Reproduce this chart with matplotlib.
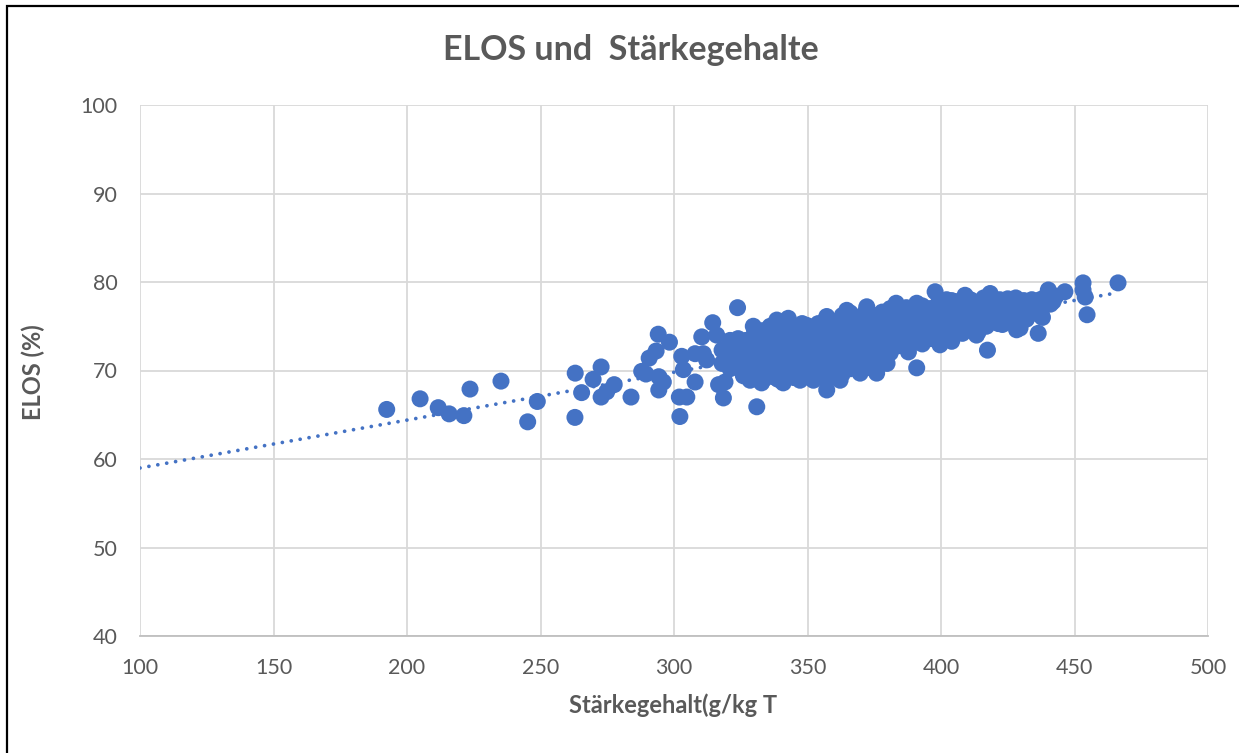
import numpy as np
import matplotlib
matplotlib.use('Agg')
import matplotlib.pyplot as plt
from matplotlib.patches import Rectangle

# starch content (g/kg T) vs ELOS (%)
starch_outliers = [192.4, 204.9, 211.7, 215.8, 221.3, 223.6, 235.2, 245.2, 248.8, 263.0,
                   262.9, 265.4, 269.7, 272.7, 272.7, 274.8, 277.6, 283.9, 287.9, 289.5,
                   290.7, 293.3, 294.1, 294.3, 294.3, 296.0, 298.3, 302.0, 304.8, 302.2,
                   302.9, 303.5, 307.9, 307.9, 310.4, 314.5, 316.0, 312.2, 316.7, 318.5,
                   319.1, 323.8, 329.7, 331.0, 311.0, 329.1, 327.8, 321.0, 325.6]
elos_outliers = [65.6, 66.8, 65.8, 65.1, 64.9, 67.9, 68.8, 64.2, 66.5, 69.7,
                 64.7, 67.5, 69.0, 70.4, 67.0, 67.6, 68.4, 67.0, 69.9, 69.6,
                 71.4, 72.2, 74.1, 69.3, 67.8, 68.7, 73.2, 67.0, 67.0, 64.8,
                 71.6, 70.1, 68.7, 71.9, 73.8, 75.4, 74.0, 71.2, 68.4, 66.9,
                 68.7, 77.1, 75.0, 65.9, 71.9, 69.1, 73.3, 73.4, 71.4]

# outline of the dense cloud
starch_edge = [338.5, 342.8, 349.7, 357.2, 364.7, 372.2, 383.2, 390.9, 397.8, 402.1,
               409.0, 418.4, 424.6, 428.3, 440.2, 446.4, 437.1,
               328.5, 332.8, 340.9, 347.2, 352.2, 357.2, 362.2, 369.7, 375.9, 379.8,
               377.7, 387.8, 390.9, 399.6, 404.0, 413.3, 417.4, 421.5, 428.3, 429.6,
               436.4, 437.7, 442.0, 427.1,
               453.2, 453.2, 454.0, 454.7, 466.3]
elos_edge = [75.7, 75.9, 75.1, 76.1, 76.8, 77.2, 77.6, 77.6, 78.9, 78.0,
             78.5, 78.7, 77.6, 77.8, 79.1, 78.9, 78.0,
             68.9, 68.6, 68.6, 68.9, 68.9, 67.8, 68.9, 69.7, 69.7, 70.8,
             71.0, 72.1, 70.3, 72.9, 73.3, 74.0, 72.3, 75.3, 74.6, 74.8,
             74.2, 76.1, 77.8, 75.5,
             79.9, 79.1, 78.3, 76.3, 79.9]

# inside of the dense cloud
starch_core = [318, 318, 321, 321, 321, 324, 324, 324, 327, 327, 327, 327,
               330, 330, 330, 330, 333, 333, 333, 333, 333, 336, 336, 336, 336, 336,
               339, 339, 339, 339, 339, 342, 342, 342, 342, 342, 345, 345, 345, 345, 345,
               348, 348, 348, 348, 348, 351, 351, 351, 351, 351, 354, 354, 354, 354, 354,
               357, 357, 357, 357, 357, 357, 360, 360, 360, 360, 360,
               363, 363, 363, 363, 363, 363, 366, 366, 366, 366, 366, 366,
               369, 369, 369, 369, 369, 372, 372, 372, 372, 372, 372,
               375, 375, 375, 375, 375, 378, 378, 378, 378, 378, 381, 381, 381, 381, 381,
               384, 384, 384, 384, 387, 387, 387, 387, 387, 390, 390, 390, 390,
               393, 393, 393, 393, 393, 396, 396, 396, 396, 399, 399, 399, 399, 399,
               402, 402, 402, 402, 405, 405, 405, 405, 408, 408, 408, 408,
               411, 411, 411, 411, 414, 414, 414, 414, 417, 417, 417, 420, 420, 420,
               423, 423, 423, 426, 426, 429, 429, 429, 432, 432, 435, 435, 438, 438, 441,
               326, 331, 335, 338, 341, 344, 347, 350, 334, 343,
               404, 410, 416, 419, 422, 425, 431, 434, 439, 443, 412, 428]
elos_core = [70.8, 72.3, 71.5, 70.2, 73.0, 72.4, 70.9, 73.6, 71.8, 73.4, 70.4, 69.6,
             72.6, 71.0, 74.1, 69.8, 73.2, 71.7, 70.3, 74.5, 69.2, 72.1, 73.8, 70.6, 75.0, 69.5,
             71.4, 72.9, 74.4, 70.0, 69.0, 72.5, 73.9, 71.0, 75.2, 69.7, 71.8, 73.2, 74.6, 70.4, 69.2,
             72.8, 71.3, 74.2, 70.0, 75.3, 73.4, 72.0, 70.7, 74.6, 69.4, 72.6, 74.0, 71.2, 75.3, 69.8,
             73.3, 71.8, 74.8, 70.4, 69.0, 75.8, 72.7, 74.2, 71.2, 75.5, 70.0,
             73.5, 72.2, 74.9, 70.8, 76.2, 69.6, 74.0, 72.6, 75.4, 71.3, 76.5, 70.2,
             73.3, 74.8, 72.0, 76.0, 70.6, 74.3, 73.0, 75.7, 71.6, 76.8, 70.3,
             74.8, 73.4, 76.2, 72.2, 70.9, 75.2, 73.8, 76.6, 72.5, 71.4, 74.6, 76.0, 73.2, 77.0, 72.0,
             75.4, 74.1, 76.5, 72.8, 75.0, 76.2, 73.6, 77.1, 72.6, 75.6, 74.3, 76.8, 73.2,
             75.1, 76.3, 74.0, 77.3, 73.0, 75.9, 74.7, 77.0, 73.6, 75.3, 76.6, 74.2, 77.6, 73.3,
             76.1, 74.9, 77.2, 73.8, 75.6, 76.8, 74.4, 77.8, 76.3, 75.1, 77.5, 74.2,
             75.8, 77.0, 74.7, 78.0, 76.5, 75.4, 77.6, 74.4, 76.0, 77.2, 75.0, 76.7, 75.6, 77.8,
             76.2, 77.3, 75.2, 76.8, 75.7, 76.4, 77.4, 75.3, 76.9, 75.8, 76.5, 77.6, 77.1, 76.0, 77.5,
             69.4, 69.3, 69.6, 69.2, 69.5, 69.3, 69.6, 69.7, 69.1, 69.4,
             77.9, 78.1, 78.2, 77.9, 78.0, 78.1, 77.9, 78.0, 78.3, 78.4, 77.8, 78.2]

x = np.array(starch_outliers + starch_edge + starch_core, dtype=float)
y = np.array(elos_outliers + elos_edge + elos_core, dtype=float)

blue = '#4472C4'
grey_txt = '#595959'
plt.rcParams['font.family'] = ['Lato', 'DejaVu Sans']

fig = plt.figure(figsize=(12.39, 7.53), dpi=100)
ax = fig.add_axes([140/1239, 1-636/753, (1208-140)/1239, (636-105)/753])

ax.scatter(x, y, s=150, color=blue, edgecolors='none', zorder=3)

# linear trend line (Excel style, dotted)
k, d = np.polyfit(x, y, 1)
tx = np.array([100, x.max()])
ax.plot(tx, k*tx + d, color=blue, lw=2.7, linestyle=(0, (0.01, 2.4)),
        dash_capstyle='round', zorder=2)

ax.set_xlim(100, 500)
ax.set_ylim(40, 100)
ax.set_xticks(np.arange(100, 501, 50))
ax.set_yticks(np.arange(40, 101, 10))
ax.grid(True, color='#d9d9d9', lw=1.3, zorder=0)
ax.tick_params(length=0, labelsize=15.5, labelcolor=grey_txt, pad=16)
for s in ['top', 'right', 'left']:
    ax.spines[s].set_visible(False)
ax.spines['bottom'].set_color('#bfbfbf')
ax.spines['bottom'].set_linewidth(1.3)

fig.text(631/1239, 1-50/753, 'ELOS und  Stärkegehalte', ha='center', va='center',
         fontsize=24.5, fontweight='bold', color=grey_txt)
fig.text(33/1239, 1-372/753, 'ELOS (%)', rotation=90, ha='center', va='center',
         fontsize=17, fontweight='bold', color=grey_txt)
fig.text(673/1239, 1-705/753, 'Stärkegehalt(g/kg T', ha='center', va='center',
         fontsize=17, fontweight='bold', color=grey_txt)

# outer chart frame
fig.patches.append(Rectangle((7/1239, -0.1), 1.2, 1.1 - 6/753, transform=fig.transFigure,
                             fill=False, ec='black', lw=1.6))

fig.savefig('out.png', dpi=100)
